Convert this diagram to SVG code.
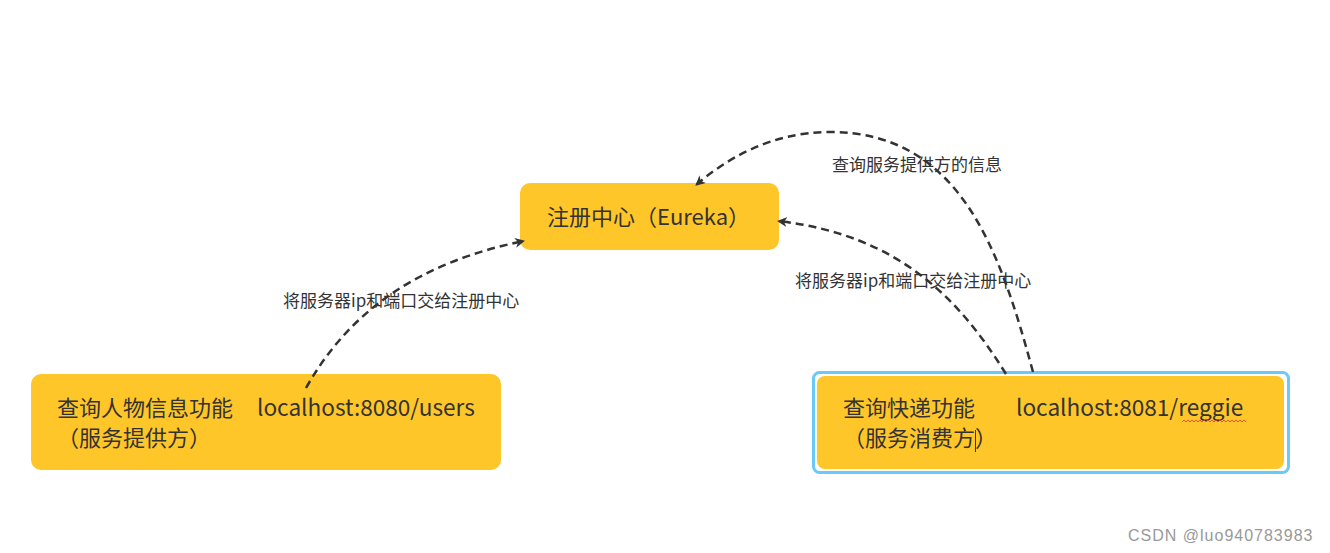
<svg xmlns="http://www.w3.org/2000/svg" width="1330" height="553" viewBox="0 0 1330 553">
<style>
.box{fill:#FFC629;}
.t{font-family:"Noto Sans CJK SC","Liberation Sans",sans-serif;fill:#333333;}
.big{font-size:22px;}
.url{font-size:22.6px;}
.lbl{font-size:17px;}
.conn{fill:none;stroke:#333333;stroke-width:2.5;stroke-dasharray:8 5;}
</style>
<defs>
<marker id="ah" viewBox="0 0 10 10" refX="9" refY="5" markerWidth="4" markerHeight="4" orient="auto" markerUnits="strokeWidth">
<path d="M0,0 L10,5 L0,10 L3,5 z" fill="#333333"/>
</marker>
</defs>
<rect width="1330" height="553" fill="#ffffff"/>
<g id="label-left"><text class="t lbl" x="283" y="307">将服务器ip和端口交给注册中心</text></g>
<g id="label-query"><text class="t lbl" x="832" y="171">查询服务提供方的信息</text></g>
<g id="label-right"><text class="t lbl" x="795" y="287">将服务器ip和端口交给注册中心</text></g>
<g id="eureka">
<rect class="box" x="520" y="183" width="259" height="67" rx="10"/>
<text class="t big" x="547" y="225">注册中心（Eureka）</text>
</g>
<g id="provider">
<rect class="box" x="31" y="374" width="470" height="96" rx="10"/>
<text class="t big" x="57" y="416">查询人物信息功能</text>
<text class="t url" x="257" y="416">localhost:8080/users</text>
<text class="t big" x="57" y="446">（服务提供方）</text>
</g>
<g id="consumer">
<rect x="813.5" y="372.5" width="475" height="100" rx="6" fill="none" stroke="#6CC8F7" stroke-width="3"/>
<rect class="box" x="817" y="376" width="467" height="93" rx="8"/>
<text class="t big" x="843" y="416">查询快递功能</text>
<text class="t url" x="1016" y="416">localhost:8081/reggie</text>
<path d="M1182,422 l2,-2 l2,2 l2,-2 l2,2 l2,-2 l2,2 l2,-2 l2,2 l2,-2 l2,2 l2,-2 l2,2 l2,-2 l2,2 l2,-2 l2,2 l2,-2 l2,2 l2,-2 l2,2 l2,-2 l2,2 l2,-2 l2,2 l2,-2 l2,2 l2,-2 l2,2 l2,-2 l2,2 l2,-2 l2,2" fill="none" stroke="#E53935" stroke-width="0.8"/>
<text class="t big" x="843" y="446">（服务消费方）</text>
<line x1="975.5" y1="430" x2="975.5" y2="452" stroke="#333333" stroke-width="1"/>
</g>
<g id="connectors">
<path class="conn" d="M306,388 C350,310 420,262 524,241" marker-end="url(#ah)"/>
<path class="conn" d="M1033,372 C1000,250 960,132 830,132 C770,132 725,160 696,185" marker-end="url(#ah)"/>
<path class="conn" d="M1006,374 C960,300 900,235 778,221" marker-end="url(#ah)"/>
</g>
<g id="watermark"><text x="1128" y="541" font-family="Liberation Sans, sans-serif" font-size="16" letter-spacing="1" fill="#999999">CSDN @luo940783983</text></g>
</svg>
